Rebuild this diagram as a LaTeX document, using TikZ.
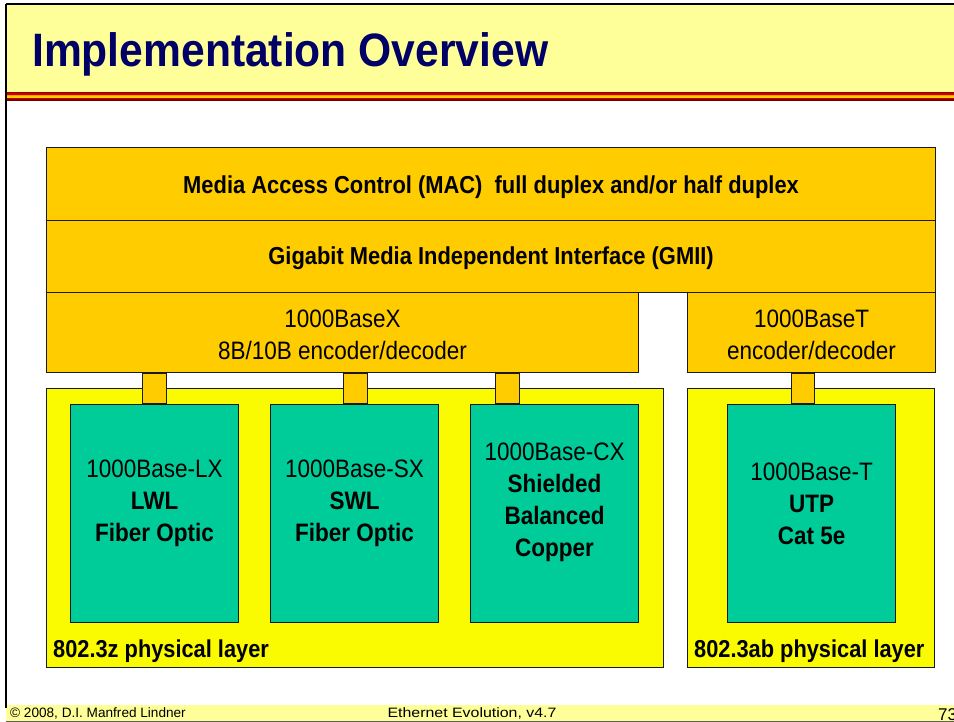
\documentclass[tikz,border=0pt]{standalone}
\usepackage{fontspec}
\setmainfont{Liberation Sans}
\usetikzlibrary{calc}
\definecolor{titleband}{HTML}{FFFF99}
\definecolor{titleink}{HTML}{000066}
\definecolor{layerorange}{HTML}{FFCC00}
\definecolor{phyyellow}{HTML}{FAFA00}
\definecolor{mediateal}{HTML}{00CC99}
\definecolor{edge}{HTML}{1A1A1A}
\definecolor{stripered}{HTML}{CC0000}
\definecolor{stripeorange}{HTML}{FF9900}
% slightly tall lettering, as set on the slides
\newcommand{\tl}[1]{\scalebox{1}[1.12]{#1}}
\tikzset{
  px/.style={x=1pt,y=-1pt},
  layerbox/.style={draw=edge, line width=1.1pt, fill=layerorange, inner sep=0pt, anchor=north west, align=center},
  phybox/.style={draw=edge, line width=1.1pt, fill=phyyellow, inner sep=0pt, anchor=north west},
  mediabox/.style={draw=edge, line width=1.1pt, fill=mediateal, inner sep=0pt, anchor=north west},
  linkbox/.style={draw=edge, line width=1.1pt, fill=layerorange},
  boldtext/.style={font=\fontsize{21.9}{26}\selectfont\bfseries, inner sep=0pt},
  plaintext/.style={font=\fontsize{22.5}{32}\selectfont, inner sep=0pt, align=center},
  mediatext/.style={font=\fontsize{22.5}{32}\selectfont, inner sep=0pt, align=center},
  phylabel/.style={font=\fontsize{21.8}{26}\selectfont\bfseries, anchor=south west, inner sep=0pt},
  foottext/.style={font=\fontsize{13.6}{15}\selectfont, inner sep=0pt},
}
\begin{document}
\begin{tikzpicture}[px]
\useasboundingbox (0,0) rectangle (954,722);
% slide frame and title band
\fill[white] (0,0) rectangle (954,722);
\fill[titleband] (6,5) rectangle (954,92);
\fill[stripered!70!black] (6,92) rectangle (954,93.5);
\fill[stripered] (6,93.5) rectangle (954,95);
\fill[stripeorange] (6,95) rectangle (954,96.5);
\fill[layerorange] (6,96.5) rectangle (954,98);
\fill[stripered] (6,98) rectangle (954,99.5);
\fill[stripered!60!black] (6,99.5) rectangle (954,101);
\fill[titleband] (6,705) rectangle (954,721);
\draw[black, line width=2pt] (6,4) -- (954,4);
\draw[black, line width=2pt] (6,4) -- (6,708);
\draw[edge!70, line width=1pt] (6,721) -- (954,721);
\node[anchor=west, inner sep=0pt, text=titleink, font=\fontsize{42.6}{48}\selectfont\bfseries] (title) at (32,54) {\scalebox{1}[1.1]{Implementation Overview}};
% footer
\node[foottext, anchor=west] (copy) at (10,713) {© 2008, D.I. Manfred Lindner};
\node[foottext] (course) at (472,713) {\scalebox{1.17}[1]{Ethernet Evolution, v4.7}};
\node[anchor=south west, inner sep=0pt, font=\fontsize{17}{18}\selectfont] (page) at (938,721) {73};

% physical layer areas
\node[phybox, minimum width=617, minimum height=279] (phyz) at (46,388) {};
\node[phybox, minimum width=247, minimum height=279] (phyab) at (687,388) {};
\node[phylabel] (phyzl) at ([xshift=7pt,yshift=5pt]phyz.south west) {\tl{802.3z physical layer}};
\node[phylabel] (phyabl) at ([xshift=7pt,yshift=5pt]phyab.south west) {\tl{802.3ab physical layer}};

% upper layers
\node[layerbox, minimum width=889, minimum height=73] (mac) at (46,147) {};
\node[boldtext] (macl) at ([yshift=-3pt]mac.center) {\tl{Media Access Control (MAC)\ \ full duplex and/or half duplex}};
\node[layerbox, minimum width=889, minimum height=72] (gmii) at (46,220) {};
\node[boldtext] (gmiil) at ([yshift=-2pt]gmii.center) {\tl{Gigabit Media Independent Interface (GMII)}};
\node[layerbox, minimum width=592, minimum height=80] (basex) at (46,292) {};
\node[plaintext] (basexl) at ([yshift=-2pt]basex.center) {\tl{1000BaseX}\\\tl{8B/10B encoder/decoder}};
\node[layerbox, minimum width=248, minimum height=80] (baset) at (687,292) {};
\node[plaintext] (basetl) at ([yshift=-2pt]baset.center) {\tl{1000BaseT}\\\tl{encoder/decoder}};

% media boxes
\node[mediabox, minimum width=168, minimum height=218] (lx) at (70,404) {};
\node[mediatext] (lxl) at ([yshift=10pt]lx.center) {\tl{1000Base-LX}\\\tl{\textbf{LWL}}\\\tl{\textbf{Fiber Optic}}};
\node[mediabox, minimum width=168, minimum height=218] (sx) at (270,404) {};
\node[mediatext] (sxl) at ([yshift=10pt]sx.center) {\tl{1000Base-SX}\\\tl{\textbf{SWL}}\\\tl{\textbf{Fiber Optic}}};
\node[mediabox, minimum width=168, minimum height=218] (cx) at (470,404) {};
\node[mediatext] (cxl) at ([yshift=11pt]cx.center) {\tl{1000Base-CX}\\\tl{\textbf{Shielded}}\\\tl{\textbf{Balanced}}\\\tl{\textbf{Copper}}};
\node[mediabox, minimum width=168, minimum height=218] (tp) at (727,404) {};
\node[mediatext] (tpl) at ([yshift=10pt]tp.center) {\tl{1000Base-T}\\\tl{\textbf{UTP}}\\\tl{\textbf{Cat 5e}}};

% links between coding layer and media
\draw[linkbox] ([xshift=-12pt]lx.north) rectangle ([xshift=12pt]lx.north |- basex.south);
\draw[linkbox] ([xshift=-11pt]sx.north) rectangle ([xshift=13pt]sx.north |- basex.south);
\draw[linkbox] ([xshift=-59pt]cx.north) rectangle ([xshift=-35pt]cx.north |- basex.south);
\draw[linkbox] ([xshift=-20pt]tp.north) rectangle ([xshift=3pt]tp.north |- baset.south);
\end{tikzpicture}
\end{document}
